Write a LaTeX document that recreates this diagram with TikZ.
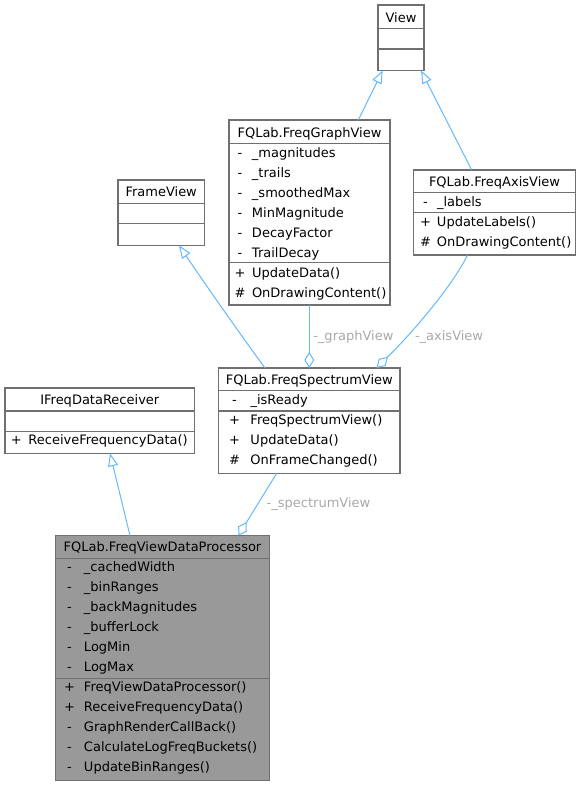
\documentclass[tikz,border=0pt]{standalone}
\usepackage{fontspec}
\setmainfont{DejaVu Sans}
\usetikzlibrary{arrows.meta}
\definecolor{boxline}{HTML}{707070}
\definecolor{edgecol}{HTML}{63B8FF}
\definecolor{lblcol}{HTML}{A8A8A8}
\definecolor{procfill}{HTML}{999999}
\newcommand{\crow}[6]{%
  \node[rowtxt] (#1) at ({2*#2-#3},#4) {\makebox[\dimexpr(#3pt-#2pt)*2\relax][c]{#5}#6};}
\newcommand{\umlbox}[6]{%
  \node[classbox, fill=#6, minimum width={(#4-#2)*1pt}, minimum height={(#5-#3)*1pt}, anchor=north west] (#1) at (#2,#3) {};}
\begin{document}
\begin{tikzpicture}[x=1pt,y=-1pt,
  every node/.style={font=\fontsize{13}{15}\selectfont},
  classbox/.style={draw=boxline, line width=1.2pt, inner sep=0pt, outer sep=0pt},
  sepline/.style={draw=boxline, line width=1.2pt},
  rowtxt/.style={anchor=base west, inner sep=0pt, outer sep=0pt},
  titletxt/.style={anchor=base, inner sep=0pt, outer sep=0pt},
  lbl/.style={anchor=base west, inner sep=0pt, outer sep=0pt, text=lblcol},
  inherit/.style={draw=edgecol, line width=1pt, -{Triangle[open, length=13pt, width=10pt]}},
  aggr/.style={draw=edgecol, line width=1pt, -{Diamond[open, length=16pt, width=10pt]}},
]
\useasboundingbox (0,0) rectangle (581,787);

% ---- View
\umlbox{view}{378}{5}{424}{70.5}{white}
\draw[sepline] (378,28.5) -- (424,28.5);
\draw[sepline] (378,49) -- (424,49);
\node[titletxt] (viewt) at (401,22) {View};

% ---- FreqGraphView
\umlbox{gv}{229}{120}{390}{305}{white}
\draw[sepline] (229,143.3) -- (390,143.3);
\draw[sepline] (229,262.7) -- (390,262.7);
\node[titletxt] (gvt) at (309.5,137) {FQLab.FreqGraphView};
\crow{gva1}{240}{252}{157}{-}{\_magnitudes}
\crow{gva2}{240}{252}{177}{-}{\_trails}
\crow{gva3}{240}{252}{197}{-}{\_smoothedMax}
\crow{gva4}{240}{252}{217}{-}{MinMagnitude}
\crow{gva5}{240}{252}{237}{-}{DecayFactor}
\crow{gva6}{240}{252}{257}{-}{TrailDecay}
\crow{gvm1}{240}{252}{277}{+}{UpdateData()}
\crow{gvm2}{240}{252}{297}{\#}{OnDrawingContent()}

% ---- FreqAxisView
\umlbox{ax}{413.5}{170}{575.5}{255}{white}
\draw[sepline] (413.5,192.3) -- (575.5,192.3);
\draw[sepline] (413.5,212.3) -- (575.5,212.3);
\node[titletxt] (axt) at (494.5,186.3) {FQLab.FreqAxisView};
\crow{axa1}{425.5}{437}{206.3}{-}{\_labels}
\crow{axm1}{425.5}{437}{226.3}{+}{UpdateLabels()}
\crow{axm2}{425.5}{437}{246.3}{\#}{OnDrawingContent()}

% ---- FrameView
\umlbox{fv}{118}{180}{204.5}{245.3}{white}
\draw[sepline] (118,203.3) -- (204.5,203.3);
\draw[sepline] (118,223.3) -- (204.5,223.3);
\node[titletxt] (fvt) at (161.2,196.8) {FrameView};

% ---- FreqSpectrumView
\umlbox{sv}{218.7}{368}{400}{473.3}{white}
\draw[sepline] (218.7,390.7) -- (400,390.7);
\draw[sepline] (218.7,411) -- (400,411);
\node[titletxt] (svt) at (309.3,384.5) {FQLab.FreqSpectrumView};
\crow{sva1}{234.5}{250.5}{404.6}{-}{\_isReady}
\crow{svm1}{234.5}{250.5}{424.6}{+}{FreqSpectrumView()}
\crow{svm2}{234.5}{250.5}{444.6}{+}{UpdateData()}
\crow{svm3}{234.5}{250.5}{464.6}{\#}{OnFrameChanged()}

% ---- IFreqDataReceiver
\umlbox{ifr}{5}{388}{194.7}{453.3}{white}
\draw[sepline] (5,411) -- (194.7,411);
\draw[sepline] (5,431.3) -- (194.7,431.3);
\node[titletxt] (ifrt) at (99.8,404.5) {IFreqDataReceiver};
\crow{ifrm1}{16.3}{28.5}{444.6}{+}{ReceiveFrequencyData()}

% ---- FreqViewDataProcessor
\umlbox{pr}{55.7}{535.7}{269.3}{780.7}{procfill}
\draw[sepline] (55.7,558.7) -- (269.3,558.7);
\draw[sepline] (55.7,678.3) -- (269.3,678.3);
\node[titletxt] (prt) at (162.5,551.8) {FQLab.FreqViewDataProcessor};
\crow{pra1}{69.5}{84}{571.9}{-}{\_cachedWidth}
\crow{pra2}{69.5}{84}{591.9}{-}{\_binRanges}
\crow{pra3}{69.5}{84}{611.9}{-}{\_backMagnitudes}
\crow{pra4}{69.5}{84}{631.9}{-}{\_bufferLock}
\crow{pra5}{69.5}{84}{651.9}{-}{LogMin}
\crow{pra6}{69.5}{84}{671.9}{-}{LogMax}
\crow{prm1}{69.5}{84}{691.9}{+}{FreqViewDataProcessor()}
\crow{prm2}{69.5}{84}{711.9}{+}{ReceiveFrequencyData()}
\crow{prm3}{69.5}{84}{731.9}{-}{GraphRenderCallBack()}
\crow{prm4}{69.5}{84}{751.9}{-}{CalculateLogFreqBuckets()}
\crow{prm5}{69.5}{84}{771.9}{-}{UpdateBinRanges()}

% ---- connectors
\draw[inherit] ([xshift=129.3pt]gv.north west) -- ([xshift=4.7pt]view.south west);
\draw[inherit] ([xshift=58.2pt]ax.north west) -- ([xshift=-3pt]view.south east);
\draw[inherit] ([xshift=46.3pt]sv.north west) .. controls (245,341) and (205,284) .. ([xshift=61pt]fv.south west);
\draw[aggr] ([xshift=80.3pt]gv.south west) -- ([xshift=90.6pt]sv.north west);
\draw[aggr] ([xshift=54pt]ax.south west) .. controls (452,287) and (410,335) .. ([xshift=157.8pt]sv.north west);
\draw[inherit] ([xshift=74.3pt]pr.north west) -- ([xshift=105pt]ifr.south west);
\draw[aggr] ([xshift=58pt]sv.south west) -- ([xshift=182.6pt]pr.north west);

% ---- connector labels
\node[lbl] (lgv) at (313.3,340.4) {-\_graphView};
\node[lbl] (lax) at (415,340.4) {-\_axisView};
\node[lbl] (lsv) at (266.7,507.7) {-\_spectrumView};
\end{tikzpicture}
\end{document}
